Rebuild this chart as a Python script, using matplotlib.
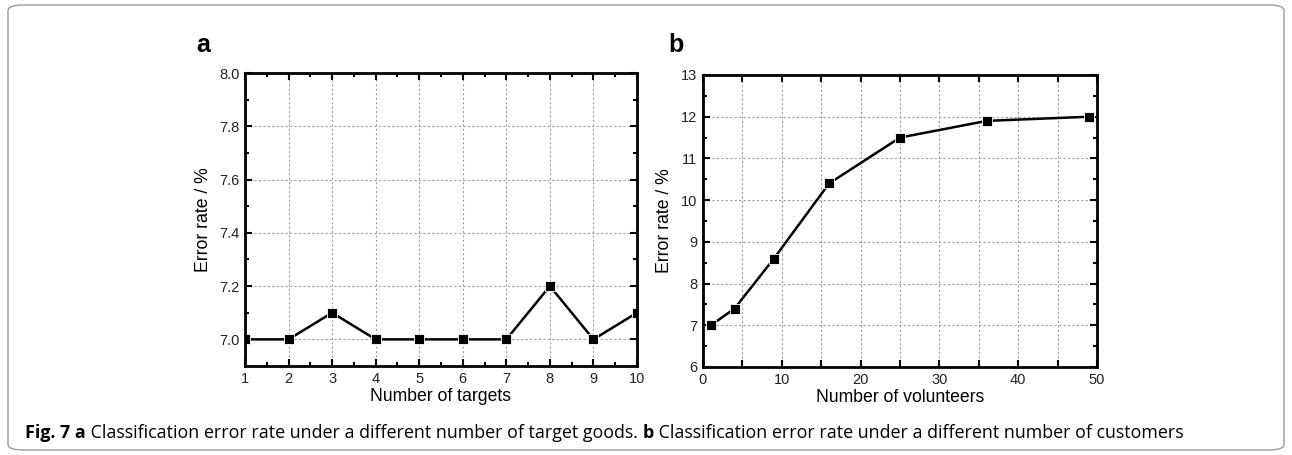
import matplotlib
matplotlib.use("Agg")
import matplotlib.pyplot as plt
from matplotlib.patches import FancyBboxPatch
from matplotlib.ticker import MultipleLocator, FuncFormatter

plt.rcParams["font.family"] = ["Liberation Sans", "DejaVu Sans"]

# panel a
targets = [1, 2, 3, 4, 5, 6, 7, 8, 9, 10]
err_targets = [7.0, 7.0, 7.1, 7.0, 7.0, 7.0, 7.0, 7.2, 7.0, 7.1]

# panel b
volunteers = [1, 4, 9, 16, 25, 36, 49]
err_volunteers = [7.0, 7.4, 8.6, 10.4, 11.5, 11.9, 12.0]

caption_bold = "Fig. 7 a"
caption_a = " Classification error rate under a different number of target goods. "
caption_b = " Classification error rate under a different number of customers"

W, H = 1292, 455
fig = plt.figure(figsize=(W / 100, H / 100), dpi=100)

# rounded frame round the whole figure
frame = FancyBboxPatch((8 / W, 5 / H), (1284 - 8) / W, (450 - 5) / H,
                       boxstyle="round,pad=0,rounding_size=0.012",
                       transform=fig.transFigure, facecolor="none",
                       edgecolor="#9a9a9a", linewidth=1.0)
fig.patches.append(frame)


def px_axes(x0, x1, y0, y1):
    return fig.add_axes([x0 / W, 1 - y1 / H, (x1 - x0) / W, (y1 - y0) / H])


def style(ax):
    for s in ax.spines.values():
        s.set_linewidth(2)
    ax.tick_params(which="both", direction="in", top=True, right=True,
                   labelsize=10.5, width=1.5, pad=4, labelcolor="#222222")
    ax.tick_params(which="major", length=5)
    ax.tick_params(which="minor", length=3)
    ax.grid(True, which="major", color="#a0a0a0", linestyle=(0, (2, 2)),
            linewidth=0.8)
    ax.set_axisbelow(True)


# panel a
ax1 = px_axes(245, 637, 73, 366)
ax1.plot(targets, err_targets, color="black", linewidth=1.8, marker="s",
         markersize=7, markerfacecolor="black", markeredgecolor="white",
         markeredgewidth=0.6)
ax1.set_xlim(1, 10)
ax1.set_ylim(6.9, 8.0)
ax1.xaxis.set_major_locator(MultipleLocator(1))
ax1.xaxis.set_minor_locator(MultipleLocator(0.5))
ax1.yaxis.set_major_locator(MultipleLocator(0.2))
ax1.yaxis.set_minor_locator(MultipleLocator(0.1))
ax1.yaxis.set_major_formatter(FuncFormatter(lambda v, p: f"{v:.1f}"))
style(ax1)
ax1.set_xlabel("Number of targets", fontsize=12.7, labelpad=2)
ax1.set_ylabel("Error rate / %", fontsize=12.7, labelpad=5)
fig.text(196 / W, 1 - 45 / H, "a", fontsize=18, fontweight="bold",
         va="center", ha="left")

# panel b
ax2 = px_axes(703, 1097, 75, 367)
ax2.plot(volunteers, err_volunteers, color="black", linewidth=1.8, marker="s",
         markersize=7, markerfacecolor="black", markeredgecolor="white",
         markeredgewidth=0.6)
ax2.set_xlim(0, 50)
ax2.set_ylim(6, 13)
ax2.xaxis.set_major_locator(MultipleLocator(5))
ax2.xaxis.set_major_formatter(FuncFormatter(
    lambda v, p: f"{int(v)}" if int(round(v)) % 10 == 0 else ""))
ax2.yaxis.set_major_locator(MultipleLocator(1))
ax2.yaxis.set_minor_locator(MultipleLocator(0.5))
style(ax2)
ax2.set_xlabel("Number of volunteers", fontsize=12.7, labelpad=2)
ax2.set_ylabel("Error rate / %", fontsize=12.7, labelpad=6)
fig.text(668 / W, 1 - 45 / H, "b", fontsize=18, fontweight="bold",
         va="center", ha="left")

# caption
cap_font = ["Open Sans", "DejaVu Sans"]
cap_size = 12.9
t = fig.text(25 / W, 1 - 433 / H, caption_bold, fontsize=cap_size,
             family=cap_font, fontweight="bold", va="center", ha="left")
fig.canvas.draw()
r = fig.canvas.get_renderer()
x = t.get_window_extent(r).x1
t2 = fig.text(x / W, 1 - 433 / H, caption_a, fontsize=cap_size,
              family=cap_font, va="center", ha="left")
x = t2.get_window_extent(r).x1
t3 = fig.text(x / W, 1 - 433 / H, "b", fontsize=cap_size, family=cap_font,
              fontweight="bold", va="center", ha="left")
x = t3.get_window_extent(r).x1
fig.text(x / W, 1 - 433 / H, caption_b, fontsize=cap_size,
         family=cap_font, va="center", ha="left")

fig.savefig("out.png", dpi=100)
